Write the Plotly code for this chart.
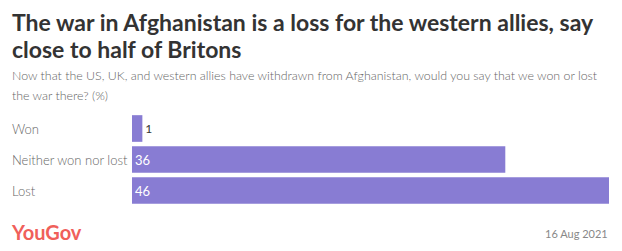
import plotly.graph_objects as go

categories = ["Won", "Neither won nor lost", "Lost"]
values = [1, 36, 46]
value_labels = ["1", "36", "46"]

title_lines = ["The war in Afghanistan is a loss for the western allies, say",
               "close to half of Britons"]
subtitle_lines = ["Now that the US, UK, and western allies have withdrawn from Afghanistan, would you say that we won or lost",
                  "the war there? (%)"]
date_text = "16 Aug 2021"
brand_text = "YouGov"

W, H = 622, 251
ML, MR, MT, MB = 132, 13, 113, 45
PW, PH = W - ML - MR, H - MT - MB

def px(x):
    return (x - ML) / PW

def py(y):
    return (H - MB - y) / PH

BAR = "#887cd3"
FONT = "Lato"

fig = go.Figure()
fig.add_trace(go.Bar(
    x=values, y=categories, orientation="h",
    marker=dict(color=BAR, line=dict(width=0)),
    text=value_labels, textposition=["outside", "inside", "inside"],
    insidetextanchor="start",
    textfont=dict(family=FONT, size=13),
    insidetextfont=dict(color="white", family=FONT, size=13),
    outsidetextfont=dict(color="#333333", family=FONT, size=12),
    cliponaxis=False,
    hoverinfo="skip",
))

ann = []
for c in categories:
    ann.append(dict(x=px(10), xref="paper", y=c, yref="y", text=c, showarrow=False,
                    xanchor="left", yanchor="middle",
                    font=dict(family=FONT, size=13, color="#666666", weight=300)))
for i, (line, yc) in enumerate(zip(title_lines, [21.5, 48.5])):
    ann.append(dict(x=px(10), xref="paper", y=py(yc), yref="paper", text=line, showarrow=False,
                    xanchor="left", yanchor="middle", align="left",
                    font=dict(family=FONT, size=23, color="#333333", weight="bold")))
for line, yc in zip(subtitle_lines, [75, 95]):
    ann.append(dict(x=px(10), xref="paper", y=py(yc), yref="paper", text=line, showarrow=False,
                    xanchor="left", yanchor="middle", align="left",
                    font=dict(family=FONT, size=12.4, color="#666666", weight=300)))
ann.append(dict(x=px(9), xref="paper", y=py(232), yref="paper", text=brand_text, showarrow=False,
                xanchor="left", yanchor="middle",
                font=dict(family=FONT, size=20, color="#f0605a", weight="bold")))
ann.append(dict(x=px(610), xref="paper", y=py(233), yref="paper", text=date_text, showarrow=False,
                xanchor="right", yanchor="middle",
                font=dict(family=FONT, size=11, color="#888888")))

fig.update_layout(
    width=W, height=H,
    margin=dict(l=ML, r=MR, t=MT, b=MB, pad=0),
    paper_bgcolor="white", plot_bgcolor="white",
    showlegend=False,
    bargap=0.14,
    xaxis=dict(range=[0, 46], visible=False, fixedrange=True),
    yaxis=dict(autorange="reversed", showticklabels=False, showgrid=False, zeroline=False,
               showline=False, ticks="", fixedrange=True),
    annotations=ann,
    font=dict(family=FONT),
)

fig.write_html("out.html", config={"displayModeBar": False})
